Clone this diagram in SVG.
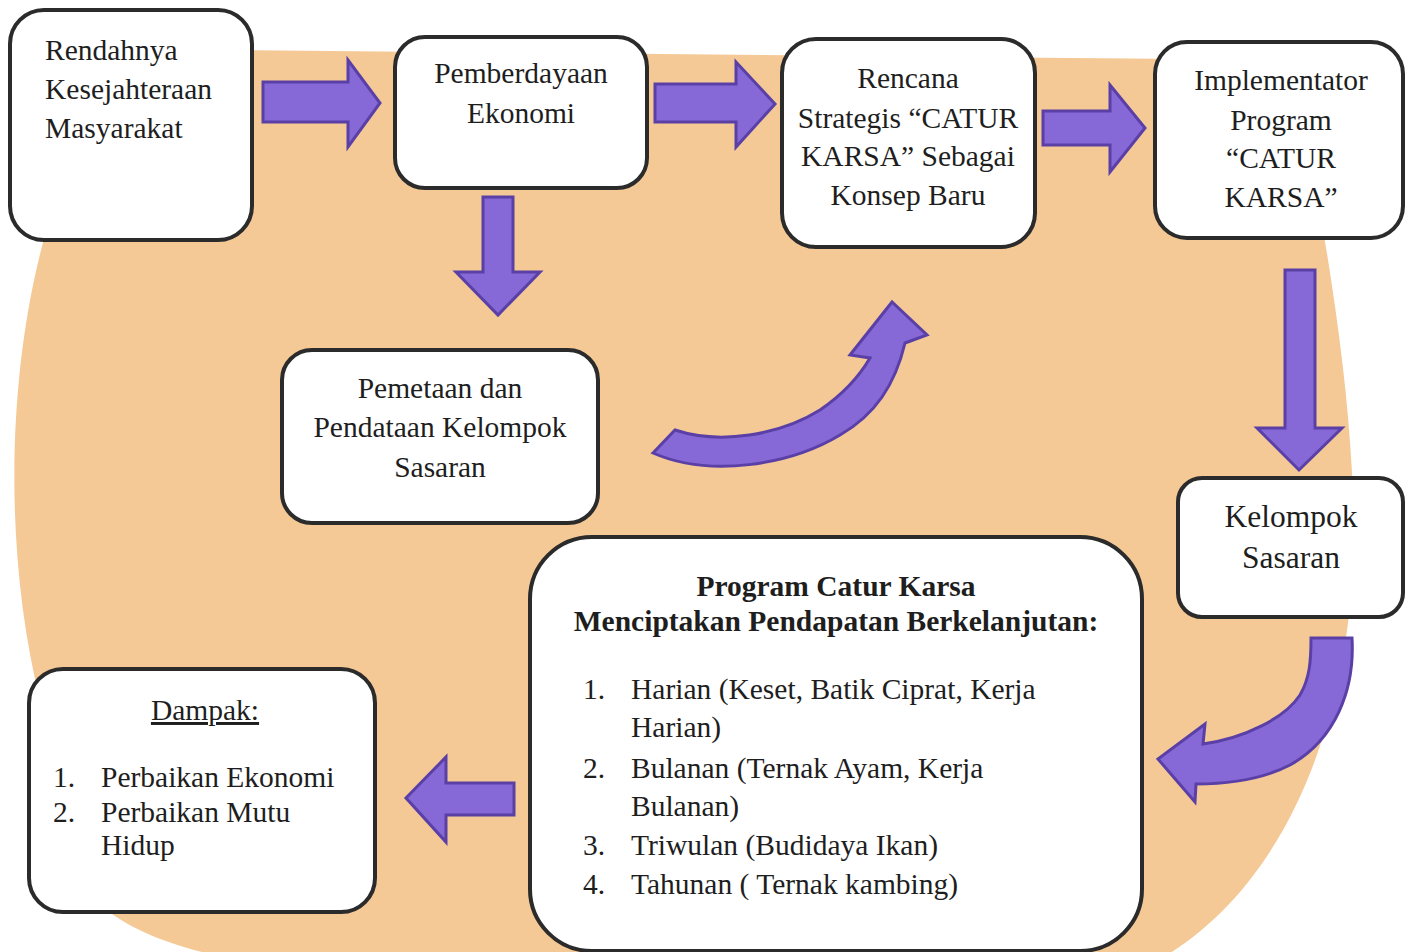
<svg xmlns="http://www.w3.org/2000/svg" width="1405" height="952" viewBox="0 0 1405 952">
<style>
.box{fill:#fff;stroke:#2b2b2b;stroke-width:4}
.t{font-family:"Liberation Serif","Times New Roman",serif;font-size:29.5px;fill:#1e1e1e}
.c{text-anchor:middle}
.b{font-weight:bold}
.arr{fill:#8669d6;stroke:#5a40a6;stroke-width:3;stroke-linejoin:miter}
</style>
<rect width="1405" height="952" fill="#ffffff"/>
<path id="background" d="M45,235 L230,50 L1290,60 C1310,150 1345,330 1352,473 C1365,640 1320,860 1167,955 L230,958 C175,948 130,930 100,905 L40,700 C5,560 5,380 45,235 Z" fill="#f4c996"/>
<g id="connectors">
<path class="arr" d="M263,82 L348,82 L348,60 L380,103 L348,147 L348,122 L263,122 Z"/>
<path class="arr" d="M655,84 L736,84 L736,62 L775,104 L736,147 L736,122 L655,122 Z"/>
<path class="arr" d="M1043,111 L1110,111 L1110,85 L1145,128 L1110,172 L1110,145 L1043,145 Z"/>
<path class="arr" d="M483,197 L513,197 L513,272 L540,272 L498,315 L456,272 L483,272 Z"/>
<path class="arr" d="M1285,270 L1315,270 L1315,428 L1342,428 L1299,470 L1257,428 L1285,428 Z"/>
<path class="arr" d="M514,783 L446,783 L446,757 L406,798 L446,842 L446,815 L514,815 Z"/>
<path class="arr" d="M653,453 L675,430 C720,445 780,435 820,410 C845,393 860,375 870,358 L850,355 L892,302 L927,335 L905,343 C895,385 875,415 840,435 C790,465 710,478 653,453 Z"/>
<path class="arr" d="M1311,638 L1352,638 C1355,690 1335,740 1290,765 C1265,778 1230,784 1196,784 L1195,802 L1158,759 L1205,724 L1203,744 C1245,738 1285,718 1300,695 C1310,678 1311,660 1311,638 Z"/>
</g>
<g id="node-rendahnya">
<rect class="box" x="10" y="10" width="242" height="230" rx="34"/>
<text class="t" x="45" y="60">Rendahnya</text>
<text class="t" x="45" y="99">Kesejahteraan</text>
<text class="t" x="45" y="138">Masyarakat</text>
</g>
<g id="node-pemberdayaan">
<rect class="box" x="395" y="37" width="252" height="151" rx="30"/>
<text class="t c" x="521" y="83">Pemberdayaan</text>
<text class="t c" x="521" y="123">Ekonomi</text>
</g>
<g id="node-rencana">
<rect class="box" x="782" y="39" width="253" height="208" rx="34"/>
<text class="t c" x="908" y="88">Rencana</text>
<text class="t c" x="908" y="128">Strategis “CATUR</text>
<text class="t c" x="908" y="166">KARSA” Sebagai</text>
<text class="t c" x="908" y="205">Konsep Baru</text>
</g>
<g id="node-implementator">
<rect class="box" x="1155" y="42" width="248" height="196" rx="32"/>
<text class="t c" x="1281" y="90">Implementator</text>
<text class="t c" x="1281" y="130">Program</text>
<text class="t c" x="1281" y="168">“CATUR</text>
<text class="t c" x="1281" y="207">KARSA”</text>
</g>
<g id="node-pemetaan">
<rect class="box" x="282" y="350" width="316" height="173" rx="30"/>
<text class="t c" x="440" y="398">Pemetaan dan</text>
<text class="t c" x="440" y="437">Pendataan Kelompok</text>
<text class="t c" x="440" y="477">Sasaran</text>
</g>
<g id="node-kelompok">
<rect class="box" x="1178" y="478" width="225" height="139" rx="24"/>
<text class="t c" x="1291" y="527" style="font-size:31.5px">Kelompok</text>
<text class="t c" x="1291" y="568" style="font-size:31.5px">Sasaran</text>
</g>
<g id="node-program">
<rect class="box" x="530" y="537" width="612" height="414" rx="62"/>
<text class="t c b" x="836" y="596">Program Catur Karsa</text>
<text class="t c b" x="836" y="631">Menciptakan Pendapatan Berkelanjutan:</text>
<text class="t" x="583" y="699">1.</text>
<text class="t" x="631" y="699">Harian (Keset, Batik Ciprat, Kerja</text>
<text class="t" x="631" y="737">Harian)</text>
<text class="t" x="583" y="778">2.</text>
<text class="t" x="631" y="778">Bulanan (Ternak Ayam, Kerja</text>
<text class="t" x="631" y="816">Bulanan)</text>
<text class="t" x="583" y="855">3.</text>
<text class="t" x="631" y="855">Triwulan (Budidaya Ikan)</text>
<text class="t" x="583" y="894">4.</text>
<text class="t" x="631" y="894">Tahunan ( Ternak kambing)</text>
</g>
<g id="node-dampak">
<rect class="box" x="29" y="669" width="346" height="243" rx="34"/>
<text class="t c" x="205" y="720" text-decoration="underline">Dampak:</text>
<text class="t" x="53" y="787">1.</text>
<text class="t" x="101" y="787">Perbaikan Ekonomi</text>
<text class="t" x="53" y="822">2.</text>
<text class="t" x="101" y="822">Perbaikan Mutu</text>
<text class="t" x="101" y="855">Hidup</text>
</g>
</svg>
